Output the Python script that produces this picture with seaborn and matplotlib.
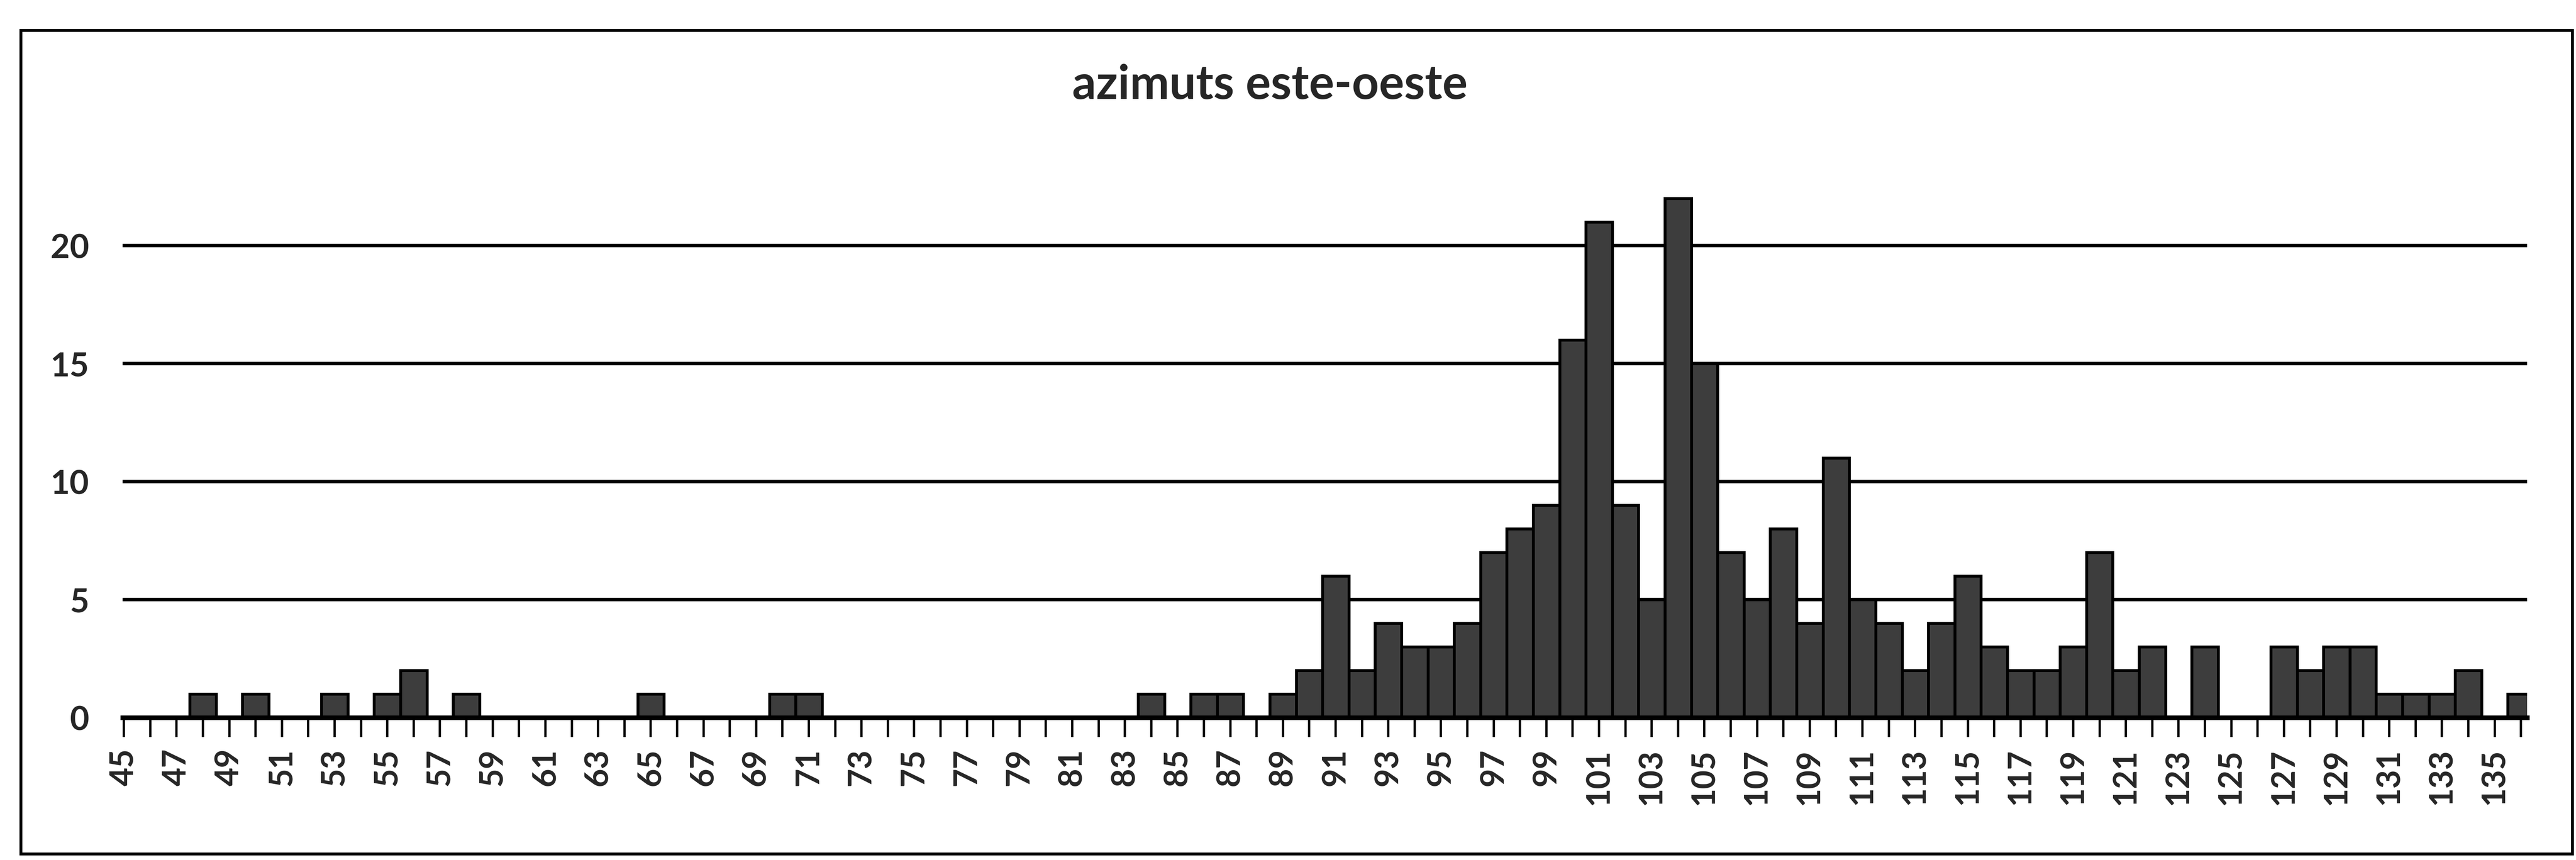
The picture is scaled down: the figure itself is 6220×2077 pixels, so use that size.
import matplotlib
matplotlib.use("Agg")
import matplotlib.pyplot as plt
import seaborn as sns
import pandas as pd
from matplotlib.patches import Rectangle

# ---- data ----
azimuts = list(range(45, 137))
counts = [0, 0, 0, 1, 0, 1, 0, 0, 1, 0,   # 45-54
          1, 2, 0, 1, 0, 0, 0, 0, 0, 0,   # 55-64
          1, 0, 0, 0, 0, 1, 1, 0, 0, 0,   # 65-74
          0, 0, 0, 0, 0, 0, 0, 0, 0, 1,   # 75-84
          0, 1, 1, 0, 1, 2, 6, 2, 4, 3,   # 85-94
          3, 4, 7, 8, 9, 16, 21, 9, 5, 22,  # 95-104
          15, 7, 5, 8, 4, 11, 5, 4, 2, 4,   # 105-114
          6, 3, 2, 2, 3, 7, 2, 3, 0, 3,     # 115-124
          0, 0, 3, 2, 3, 3, 1, 1, 1, 2,     # 125-134
          0, 1]                             # 135-136
y_ticks = [0, 5, 10, 15, 20]
title = "azimuts este-oeste"

df = pd.DataFrame({"azimut": [str(a) for a in azimuts], "count": counts})

sns.set_style("white")
plt.rcParams["font.family"] = ["Lato", "DejaVu Sans"]

fig = plt.figure(figsize=(62.2, 20.77), dpi=100)
ax = fig.add_axes([0.0476, 0.1656, 0.9334, 0.686])

sns.barplot(data=df, x="azimut", y="count", order=df["azimut"], color="#3d3d3d",
            saturation=1, width=1.0, edgecolor="black", linewidth=5, ax=ax, zorder=3)

ax.set_xlim(-0.05, len(azimuts) - 1 + 0.23)
ax.set_ylim(0, 25)
ax.set_yticks(y_ticks)
ax.set_yticklabels([str(v) for v in y_ticks], fontsize=58, fontweight="bold")
ax.yaxis.grid(True, color="black", linewidth=6)
ax.xaxis.grid(False)
ax.set_axisbelow(True)

ax.set_xticks(range(len(azimuts)))
ax.set_xticklabels([str(a) if (a - 45) % 2 == 0 else "" for a in azimuts],
                   rotation=90, fontsize=56, fontweight="bold")
ax.tick_params(axis="x", direction="out", length=34, width=4, color="black", pad=20, bottom=True)
ax.tick_params(axis="y", length=0, pad=58)
ax.set_xlabel("")
ax.set_ylabel("")

for s in ["top", "right", "left"]:
    ax.spines[s].set_visible(False)
ax.spines["bottom"].set_color("black")
ax.spines["bottom"].set_linewidth(8)
ax.spines["bottom"].set_zorder(4)

fig.text(0.493, 0.901, title, ha="center", va="center", fontsize=82, fontweight="bold")

fig.patches.append(Rectangle((0.008, 0.007), 0.9905, 0.958, transform=fig.transFigure,
                             fill=False, edgecolor="black", linewidth=5))

fig.savefig("out.png", dpi=100)
